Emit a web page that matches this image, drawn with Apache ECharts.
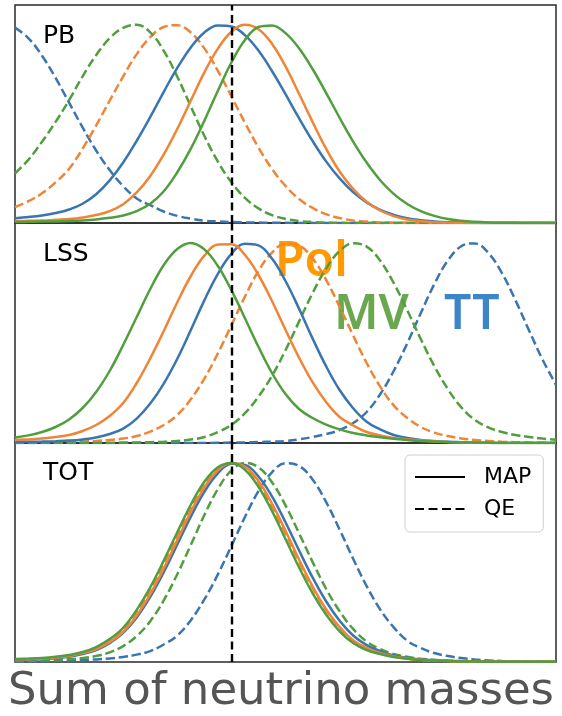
<!DOCTYPE html>
<html>
<head>
<meta charset="UTF-8">
<title>Sum of neutrino masses</title>
<script src="https://cdn.jsdelivr.net/npm/echarts@6/dist/echarts.min.js"></script>
<style>
  html, body { margin: 0; padding: 0; background: #fff; }
  #main { width: 562px; height: 716px; }
</style>
</head>
<body>
<div id="main"></div>
<script>
// sample positions along the mass axis (arbitrary units, 0..1)
var xs = [0, 0.025, 0.05, 0.075, 0.1, 0.125, 0.15, 0.175, 0.2, 0.225,
          0.25, 0.275, 0.3, 0.325, 0.35, 0.375, 0.4, 0.425, 0.45, 0.475,
          0.5, 0.525, 0.55, 0.575, 0.6, 0.625, 0.65, 0.675, 0.7, 0.725,
          0.75, 0.775, 0.8, 0.825, 0.85, 0.875, 0.9, 0.925, 0.95, 0.975, 1];
var fiducial = 0.4;

// PB panel
var pbMapTT  = [0.024,0.03,0.038,0.05,0.068,0.097,0.145,0.215,0.305,0.415,0.535,0.662,0.783,0.886,0.961,0.997,0.992,0.948,0.87,0.767,0.65,0.529,0.414,0.311,0.225,0.156,0.104,0.066,0.041,0.024,0.014,0.008,0.004,0.002,0.001,0,0,0,0,0,0];
var pbMapPol = [0.01,0.011,0.012,0.016,0.02,0.028,0.04,0.06,0.095,0.154,0.237,0.346,0.475,0.618,0.76,0.88,0.965,1.0,0.978,0.905,0.79,0.652,0.51,0.375,0.26,0.172,0.107,0.063,0.035,0.018,0.009,0.004,0.002,0.001,0,0,0,0,0,0,0];
var pbMapMV  = [0.005,0.006,0.007,0.008,0.01,0.013,0.018,0.026,0.038,0.06,0.097,0.16,0.256,0.375,0.516,0.667,0.81,0.923,0.989,0.997,0.958,0.882,0.777,0.657,0.531,0.411,0.305,0.216,0.147,0.096,0.06,0.036,0.02,0.011,0.006,0.003,0.0015,0.001,0,0,0];
var pbQeTT   = [0.986,0.932,0.844,0.732,0.607,0.482,0.366,0.267,0.186,0.124,0.09,0.058,0.036,0.022,0.012,0.008,0.005,0.003,0.002,0.001,0.001,0,0,0,0,0,0,0,0,0,0,0,0,0,0,0,0,0,0,0,0];
var pbQePol  = [0.08,0.11,0.15,0.205,0.274,0.375,0.492,0.617,0.74,0.852,0.938,0.989,0.998,0.961,0.881,0.768,0.639,0.506,0.381,0.273,0.187,0.121,0.076,0.045,0.025,0.013,0.007,0.003,0.0015,0.001,0,0,0,0,0,0,0,0,0,0,0];
var pbQeMV   = [0.25,0.32,0.41,0.51,0.62,0.74,0.847,0.932,0.985,1.0,0.962,0.869,0.738,0.588,0.44,0.31,0.205,0.127,0.074,0.04,0.021,0.01,0.005,0.002,0.001,0,0,0,0,0,0,0,0,0,0,0,0,0,0,0,0];

// LSS panel
var lssMapTT  = [0.005,0.006,0.007,0.009,0.012,0.018,0.028,0.045,0.072,0.122,0.197,0.297,0.421,0.565,0.713,0.846,0.946,0.996,0.988,0.922,0.81,0.672,0.523,0.384,0.265,0.174,0.106,0.068,0.04,0.025,0.015,0.01,0.006,0.004,0.002,0.001,0,0,0,0,0];
var lssMapPol = [0.015,0.018,0.022,0.03,0.04,0.06,0.09,0.135,0.2,0.3,0.423,0.56,0.704,0.835,0.937,0.992,0.994,0.94,0.84,0.71,0.566,0.427,0.304,0.205,0.13,0.088,0.055,0.038,0.025,0.018,0.012,0.008,0.005,0.003,0.002,0.001,0,0,0,0,0];
var lssMapMV  = [0.027,0.038,0.055,0.08,0.118,0.175,0.255,0.36,0.49,0.63,0.77,0.89,0.97,1.0,0.968,0.885,0.764,0.624,0.481,0.35,0.245,0.17,0.125,0.092,0.068,0.05,0.038,0.029,0.021,0.015,0.01,0.007,0.005,0.003,0.002,0.001,0,0,0,0,0];
var lssQeTT   = [0,0,0,0,0,0,0,0,0,0,0,0,0,0,0,0.001,0.002,0.003,0.005,0.007,0.01,0.018,0.03,0.045,0.065,0.1,0.155,0.244,0.36,0.498,0.649,0.794,0.912,0.984,0.998,0.95,0.85,0.714,0.564,0.418,0.291];
var lssQePol  = [0.001,0.002,0.003,0.004,0.005,0.007,0.01,0.015,0.022,0.035,0.057,0.09,0.14,0.219,0.322,0.448,0.589,0.732,0.86,0.952,0.997,0.987,0.923,0.816,0.681,0.538,0.4,0.282,0.188,0.125,0.08,0.052,0.035,0.023,0.015,0.01,0.006,0.004,0.003,0.002,0.001];
var lssQeMV   = [0,0,0,0,0,0,0,0,0.002,0.003,0.004,0.006,0.01,0.017,0.03,0.055,0.091,0.149,0.232,0.336,0.464,0.607,0.749,0.872,0.96,0.999,0.982,0.912,0.8,0.664,0.52,0.385,0.27,0.178,0.115,0.078,0.055,0.04,0.03,0.022,0.016];

// TOT panel
var totMapTT  = [0.01,0.012,0.014,0.019,0.026,0.04,0.06,0.095,0.146,0.224,0.327,0.451,0.59,0.73,0.855,0.948,0.996,0.99,0.932,0.832,0.702,0.561,0.425,0.305,0.207,0.133,0.085,0.055,0.033,0.021,0.013,0.009,0.006,0.004,0.003,0.002,0.001,0.001,0.001,0.001,0.001];
var totMapPol = [0.012,0.014,0.016,0.022,0.03,0.045,0.065,0.1,0.152,0.234,0.341,0.47,0.612,0.754,0.876,0.963,0.999,0.98,0.909,0.796,0.659,0.515,0.38,0.265,0.175,0.109,0.07,0.045,0.028,0.018,0.011,0.008,0.005,0.003,0.002,0.001,0.001,0.001,0.001,0.001,0.001];
var totMapMV  = [0.015,0.017,0.02,0.026,0.035,0.05,0.075,0.115,0.172,0.262,0.375,0.509,0.652,0.79,0.905,0.978,1.0,0.965,0.88,0.759,0.618,0.476,0.346,0.238,0.154,0.095,0.06,0.04,0.025,0.016,0.01,0.007,0.005,0.003,0.002,0.001,0.001,0.001,0.001,0.001,0.001];
var totQeTT   = [0.002,0.003,0.004,0.005,0.007,0.01,0.013,0.018,0.025,0.037,0.055,0.088,0.133,0.21,0.314,0.44,0.583,0.728,0.858,0.953,0.998,0.985,0.917,0.804,0.665,0.519,0.381,0.264,0.174,0.107,0.07,0.045,0.03,0.02,0.012,0.008,0.005,0.003,0.002,0.0015,0.001];
var totQePol  = [0.012,0.014,0.016,0.022,0.03,0.046,0.068,0.108,0.166,0.252,0.362,0.493,0.635,0.773,0.891,0.97,1.0,0.975,0.899,0.784,0.647,0.504,0.373,0.26,0.172,0.107,0.07,0.044,0.027,0.017,0.011,0.008,0.005,0.003,0.002,0.001,0.001,0.001,0.001,0.001,0.001];
var totQeMV   = [0.005,0.006,0.008,0.011,0.014,0.02,0.03,0.048,0.08,0.13,0.205,0.31,0.441,0.588,0.738,0.869,0.962,1.0,0.978,0.903,0.787,0.647,0.503,0.368,0.255,0.166,0.103,0.065,0.04,0.026,0.016,0.011,0.007,0.005,0.003,0.002,0.001,0.001,0.001,0.001,0.001];

var panelNames = ['PB', 'LSS', 'TOT'];
var blue = '#3a75b0', orange = '#ef8536', green = '#519e3e';
var dash = [9, 4];

var myChart = echarts.init(document.getElementById('main'), null, { renderer: 'canvas' });

function pairs(vals) {
  if (vals.length !== xs.length) {
    throw new Error('length mismatch: ' + vals.length);
  }
  return xs.map(function (x, i) { return [x, vals[i]]; });
}

function curve(panel, vals, color, dashed) {
  return {
    type: 'line',
    xAxisIndex: panel,
    yAxisIndex: panel,
    data: pairs(vals),
    smooth: 0.4,
    symbol: 'none',
    silent: true,
    lineStyle: { color: color, width: 2.5, type: dashed ? dash : 'solid' }
  };
}

// black dashed line at the fiducial mass, one per panel
function fiducialLine(panel) {
  return {
    type: 'line',
    xAxisIndex: panel,
    yAxisIndex: panel,
    data: [],
    silent: true,
    z: 5,
    markLine: {
      symbol: 'none',
      silent: true,
      label: { show: false },
      lineStyle: { color: '#000', width: 2.4, type: [8, 4.5] },
      data: [{ xAxis: fiducial }]
    }
  };
}

var series = [
  curve(0, pbQeTT, blue, true), curve(0, pbQePol, orange, true), curve(0, pbQeMV, green, true),
  curve(0, pbMapTT, blue, false), curve(0, pbMapPol, orange, false), curve(0, pbMapMV, green, false),
  curve(1, lssQeTT, blue, true), curve(1, lssQePol, orange, true), curve(1, lssQeMV, green, true),
  curve(1, lssMapTT, blue, false), curve(1, lssMapPol, orange, false), curve(1, lssMapMV, green, false),
  curve(2, totQeTT, blue, true), curve(2, totQePol, orange, true), curve(2, totQeMV, green, true),
  curve(2, totMapTT, blue, false), curve(2, totMapPol, orange, false), curve(2, totMapMV, green, false),
  fiducialLine(0), fiducialLine(1), fiducialLine(2),
  // legend entries only
  { name: 'MAP', type: 'line', xAxisIndex: 2, yAxisIndex: 2, data: [], symbol: 'none',
    itemStyle: { color: '#000' }, lineStyle: { color: '#000', width: 2 } },
  { name: 'QE', type: 'line', xAxisIndex: 2, yAxisIndex: 2, data: [], symbol: 'none',
    itemStyle: { color: '#000' }, lineStyle: { color: '#000', width: 2, type: [9, 4.5] } }
];

var grids = [
  { left: 15, top: 5, width: 541, height: 218 },
  { left: 15, top: 223, width: 541, height: 220 },
  { left: 15, top: 443, width: 541, height: 219 }
].map(function (g) {
  g.show = true;
  g.borderColor = '#2a2a2a';
  g.borderWidth = 1.5;
  g.backgroundColor = 'transparent';
  g.containLabel = false;
  return g;
});

var xAxes = [0, 1, 2].map(function (i) {
  return { type: 'value', gridIndex: i, min: 0, max: 1,
    axisLine: { show: false }, axisTick: { show: false },
    axisLabel: { show: false }, splitLine: { show: false } };
});
var yAxes = [0, 1, 2].map(function (i) {
  return { type: 'value', gridIndex: i, min: 0, max: 1.1,
    axisLine: { show: false }, axisTick: { show: false },
    axisLabel: { show: false }, splitLine: { show: false } };
});

var labelY = [36, 254, 473.5];
var graphics = panelNames.map(function (name, i) {
  return { type: 'text', x: 43, y: labelY[i], z: 10,
    style: { text: name, font: '25px "DejaVu Sans"', fill: '#000', verticalAlign: 'middle' } };
});
graphics.push(
  { type: 'text', x: 275, y: 262, z: 0,
    style: { text: 'Pol', font: '600 48px "Noto Sans"', fill: '#ff9900', verticalAlign: 'middle' } },
  { type: 'text', x: 334, y: 315, z: 0,
    style: { text: 'MV', font: '600 48px "Noto Sans"', fill: '#6aa84f', verticalAlign: 'middle' } },
  { type: 'text', x: 444, y: 315, z: 0,
    style: { text: 'TT', font: '600 48px "Noto Sans"', fill: '#3d85c6', verticalAlign: 'middle' } },
  { type: 'text', x: 281, y: 692, z: 10,
    style: { text: 'Sum of neutrino masses', font: '45px "DejaVu Sans"', fill: '#555555',
      align: 'center', verticalAlign: 'middle' } }
);

var option = {
  animation: false,
  backgroundColor: '#fff',
  grid: grids,
  xAxis: xAxes,
  yAxis: yAxes,
  legend: {
    data: ['MAP', 'QE'],
    orient: 'vertical',
    left: 405,
    top: 455,
    padding: [11, 12, 12, 9],
    itemGap: 10,
    itemWidth: 50,
    itemHeight: 14,
    selectedMode: false,
    backgroundColor: '#fff',
    borderColor: '#d0d0d0',
    borderWidth: 1,
    borderRadius: 5,
    itemStyle: { opacity: 0 },
    textStyle: { fontFamily: 'DejaVu Sans', fontSize: 22, color: '#000', padding: [0, 0, 0, 14] }
  },
  graphic: graphics,
  series: series
};
myChart.setOption(option);
</script>
</body>
</html>
